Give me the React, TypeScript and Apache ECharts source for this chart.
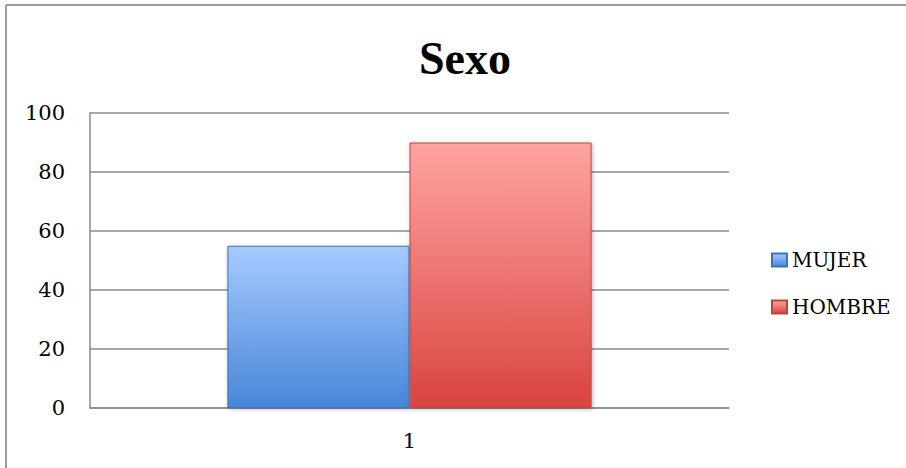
import React, { useEffect, useRef } from "react";
import * as echarts from "echarts";

const categories = ["1"];
const seriesNames = ["MUJER", "HOMBRE"];
const mujerValues = [55];
const hombreValues = [90];
const yTicks = { min: 0, max: 100, interval: 20 };

const FONT = "DejaVu Serif";

export default function App() {
  const ref = useRef<HTMLDivElement>(null);
  useEffect(() => {
    if (!ref.current) return;
    const chart = echarts.init(ref.current, null, { renderer: "svg" });
    const grad = (top: string, bottom: string) =>
      new echarts.graphic.LinearGradient(0, 0, 0, 1, [
        { offset: 0, color: top },
        { offset: 1, color: bottom },
      ]);
    chart.setOption({
      animation: false,
      backgroundColor: "#ffffff",
      title: {
        text: "Sexo",
        left: 460,
        top: 30,
        textAlign: "center",
        textStyle: {
          fontFamily: "Liberation Serif",
          fontWeight: "bold",
          fontSize: 46,
          color: "#000",
        },
      },
      graphic: [
        {
          type: "line",
          shape: { x1: 6, y1: 5, x2: 906, y2: 5 },
          style: { stroke: "#999", lineWidth: 2 },
        },
        {
          type: "line",
          shape: { x1: 6, y1: 5, x2: 6, y2: 468 },
          style: { stroke: "#999", lineWidth: 2 },
        },
      ],
      legend: {
        orient: "vertical",
        left: 766,
        top: 245,
        itemWidth: 15,
        itemHeight: 13,
        itemGap: 27,
        icon: "rect",
        data: seriesNames,
        textStyle: { fontFamily: FONT, fontSize: 20, color: "#000" },
      },
      grid: { left: 90, right: 177, top: 113, bottom: 60 },
      xAxis: {
        type: "category",
        data: categories,
        axisTick: { show: false },
        axisLine: { lineStyle: { color: "#8a8a8a", width: 1.5 } },
        axisLabel: { fontFamily: FONT, fontSize: 21, color: "#000", margin: 22 },
      },
      yAxis: {
        type: "value",
        min: yTicks.min,
        max: yTicks.max,
        interval: yTicks.interval,
        axisLine: { show: true, lineStyle: { color: "#8a8a8a", width: 1.5 } },
        axisTick: { show: false },
        splitLine: { lineStyle: { color: "#8a8a8a", width: 1.5 } },
        axisLabel: { fontFamily: FONT, fontSize: 21, color: "#000", margin: 25 },
      },
      series: [
        {
          name: seriesNames[0],
          type: "bar",
          data: mujerValues,
          barGap: "0%",
          barCategoryGap: "43%",
          itemStyle: {
            color: grad("#a6caff", "#4886d8"),
            borderColor: "#3f74bd",
            borderWidth: 1,
            shadowBlur: 4,
            shadowColor: "rgba(0,0,0,0.3)",
            shadowOffsetX: 1,
            shadowOffsetY: 1,
          },
        },
        {
          name: seriesNames[1],
          type: "bar",
          data: hombreValues,
          barGap: "0%",
          barCategoryGap: "43%",
          itemStyle: {
            color: grad("#ffa4a1", "#d9443f"),
            borderColor: "#b84844",
            borderWidth: 1,
            shadowBlur: 4,
            shadowColor: "rgba(0,0,0,0.3)",
            shadowOffsetX: 1,
            shadowOffsetY: 1,
          },
        },
      ],
    });
    return () => chart.dispose();
  }, []);
  return (
    <div
      ref={ref}
      style={{ position: "fixed", left: 0, top: 0, width: 906, height: 468 }}
    />
  );
}
